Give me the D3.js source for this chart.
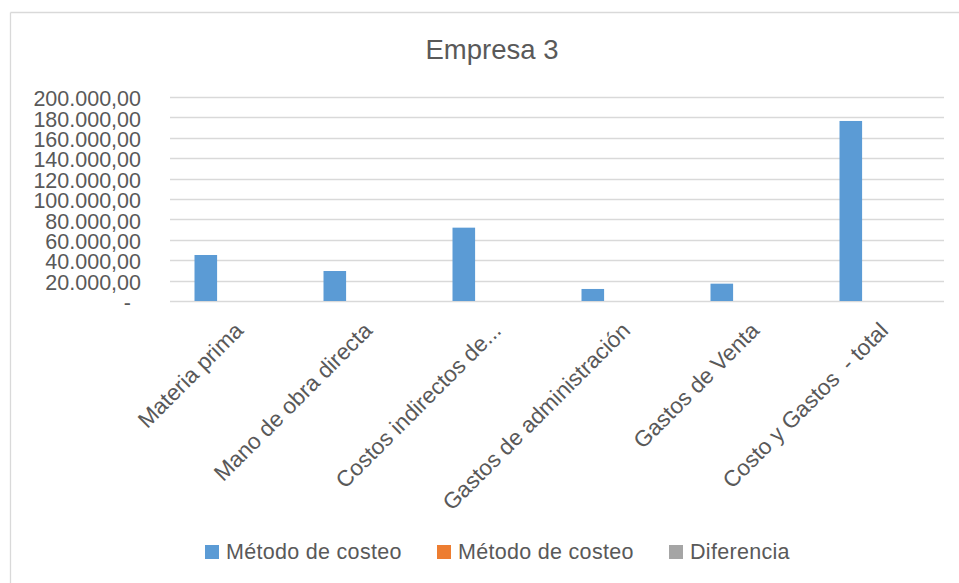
<!DOCTYPE html>
<html>
<head>
<meta charset="utf-8">
<script src="https://cdn.jsdelivr.net/npm/d3@7"></script>
<style>
  html, body { margin: 0; padding: 0; background: #fff; }
  svg { display: block; font-family: "Liberation Sans", Arial, sans-serif; }
  svg text { white-space: pre; }
</style>
</head>
<body>
<svg id="chart" width="959" height="583"></svg>
<script>
// Cost categories along the x axis
const categories = [
  "Materia prima",
  "Mano de obra directa",
  "Costos indirectos de...",
  "Gastos de administración",
  "Gastos de Venta",
  "Costo y Gastos  - total"
];

// Series names and values
const seriesNames = ["Método de costeo", "Método de costeo", "Diferencia"];
const metodoA = [45100, 29400, 71900, 11800, 17000, 176500];
const metodoB = [0, 0, 0, 0, 0, 0];
const diferencia = [0, 0, 0, 0, 0, 0];
const seriesColors = ["#5B9BD5", "#ED7D31", "#A5A5A5"];

// Value axis ticks
const yTicks = [0, 20000, 40000, 60000, 80000, 100000, 120000, 140000, 160000, 180000, 200000];

const title = "Empresa 3";

const seriesValues = [metodoA, metodoB, diferencia];
const rows = categories.map((c, i) => ({
  category: c,
  values: seriesValues.map((s, k) => ({ key: k, value: s[i] }))
}));

const svg = d3.select("#chart");
const textColor = "#595959";
const gridColor = "#d9d9d9";

// Chart frame
svg.append("line").attr("x1", 10.5).attr("x2", 10.5).attr("y1", 12.5).attr("y2", 583)
  .attr("stroke", gridColor).attr("stroke-width", 1.3);
svg.append("line").attr("x1", 10.5).attr("x2", 959).attr("y1", 12.5).attr("y2", 12.5)
  .attr("stroke", gridColor).attr("stroke-width", 1.3);

// Title
svg.append("text")
  .attr("x", 492).attr("y", 58.5)
  .attr("text-anchor", "middle")
  .attr("fill", textColor)
  .style("font-size", "27.5px")
  .text(title);

const plot = { left: 170, right: 944, top: 97, bottom: 301 };

const x0 = d3.scaleBand().domain(categories).range([plot.left, plot.right]).padding(0);
const x1 = d3.scaleBand().domain([0, 1, 2]).range([0, x0.bandwidth()])
  .paddingInner(0.2125).paddingOuter(0.854);
const y = d3.scaleLinear().domain([0, 200000]).range([plot.bottom, plot.top]);

// Gridlines
svg.append("g").selectAll("line").data(yTicks).join("line")
  .attr("x1", plot.left).attr("x2", plot.right)
  .attr("y1", d => Math.round(y(d)) + 0.5).attr("y2", d => Math.round(y(d)) + 0.5)
  .attr("stroke", gridColor).attr("stroke-width", 1.3);

// Value axis labels
const locale = d3.formatLocale({ decimal: ",", thousands: ".", grouping: [3], currency: ["", ""] });
const fmt = locale.format(",.2f");
const yAxis = d3.axisLeft(y).tickValues(yTicks).tickSize(0).tickPadding(0)
  .tickFormat(d => d === 0 ? "-" : fmt(d));
const yg = svg.append("g").attr("transform", `translate(141,0)`).call(yAxis);
yg.select(".domain").remove();
yg.selectAll("text")
  .attr("fill", textColor)
  .attr("dy", "0.4em")
  .attr("x", d => d === 0 ? -10 : 0)
  .style("font-size", "21.5px")
  .style("font-family", "'Liberation Sans', Arial, sans-serif");

// Bars
svg.append("g").selectAll("g").data(rows).join("g")
  .attr("transform", d => `translate(${x0(d.category)},0)`)
  .selectAll("rect").data(d => d.values).join("rect")
  .attr("x", d => x1(d.key))
  .attr("width", x1.bandwidth())
  .attr("y", d => y(d.value))
  .attr("height", d => y(0) - y(d.value))
  .attr("fill", d => seriesColors[d.key]);

// Category axis labels, rotated
const xAxis = d3.axisBottom(x0).tickSize(0).tickPadding(0);
const xg = svg.append("g").attr("transform", `translate(0,${plot.bottom})`).call(xAxis);
xg.select(".domain").remove();
xg.selectAll("text")
  .attr("fill", textColor)
  .attr("text-anchor", "end")
  .attr("dy", 0)
  .attr("y", 0)
  .attr("transform", "translate(10,31) rotate(-45)")
  .style("font-size", "22.5px")
  .style("font-family", "'Liberation Sans', Arial, sans-serif");

// Legend
const legendItems = [
  { name: seriesNames[0], color: seriesColors[0], x: 205 },
  { name: seriesNames[1], color: seriesColors[1], x: 437 },
  { name: seriesNames[2], color: seriesColors[2], x: 669 }
];
const lg = svg.append("g").selectAll("g").data(legendItems).join("g")
  .attr("transform", d => `translate(${d.x},0)`);
lg.append("rect").attr("x", 0).attr("y", 545).attr("width", 14).attr("height", 14)
  .attr("fill", d => d.color);
lg.append("text").attr("x", 21).attr("y", 559)
  .attr("fill", textColor)
  .style("font-size", "21.5px")
  .style("letter-spacing", "0.3px")
  .text(d => d.name);
</script>
</body>
</html>
